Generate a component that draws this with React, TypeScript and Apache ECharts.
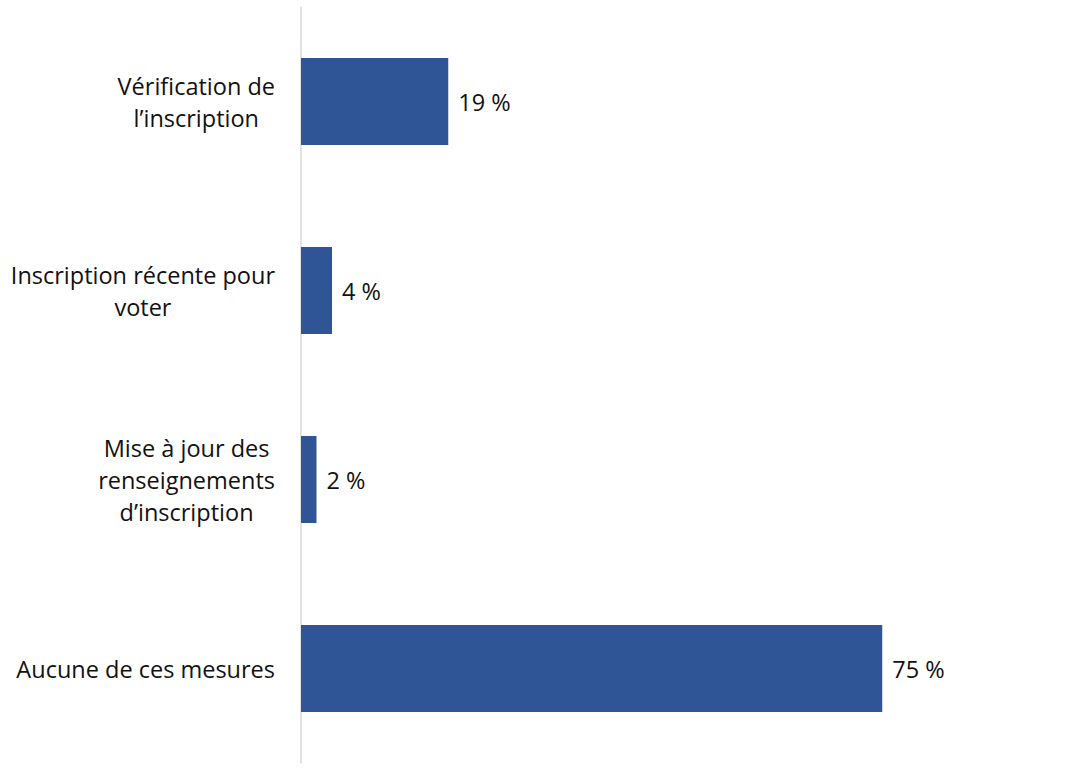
import React, { useEffect, useRef } from "react";
import * as echarts from "echarts";

const categories = [
  "Vérification de\nl’inscription",
  "Inscription récente pour\nvoter",
  "Mise à jour des\nrenseignements\nd’inscription",
  "Aucune de ces mesures",
];
const values = [19, 4, 2, 75];

const FONT = "Open Sans";

export default function App() {
  const ref = useRef<HTMLDivElement>(null);
  useEffect(() => {
    const chart = echarts.init(ref.current!, null, { renderer: "svg" });
    chart.setOption({
      animation: false,
      backgroundColor: "#ffffff",
      grid: { left: 301, right: 22, top: 7, bottom: 14, containLabel: false },
      xAxis: {
        type: "value",
        min: 0,
        max: 96,
        show: false,
      },
      yAxis: {
        type: "category",
        inverse: true,
        data: categories,
        axisLine: { show: true, lineStyle: { color: "#D9D9D9", width: 1.5 } },
        axisTick: { show: false },
        splitLine: { show: false },
        axisLabel: {
          margin: 26,
          align: "right",
          formatter: (v: string) =>
            v
              .split("\n")
              .map((l) => `{c|${l}}`)
              .join("\n"),
          rich: {
            c: {
              align: "center",
              fontFamily: FONT,
              fontSize: 23.5,
              lineHeight: 32,
              color: "#111111",
            },
          },
        },
      },
      series: [
        {
          type: "bar",
          data: values,
          barCategoryGap: "54%",
          itemStyle: { color: "#2F5597" },
          label: {
            show: true,
            position: "right",
            distance: 10,
            formatter: (p: any) => `${p.value} %`,
            fontFamily: FONT,
            fontSize: 23.5,
            color: "#111111",
          },
        },
      ],
    });
    return () => chart.dispose();
  }, []);
  return (
    <div
      ref={ref}
      style={{ position: "fixed", left: 0, top: 0, width: 1067, height: 777 }}
    />
  );
}
